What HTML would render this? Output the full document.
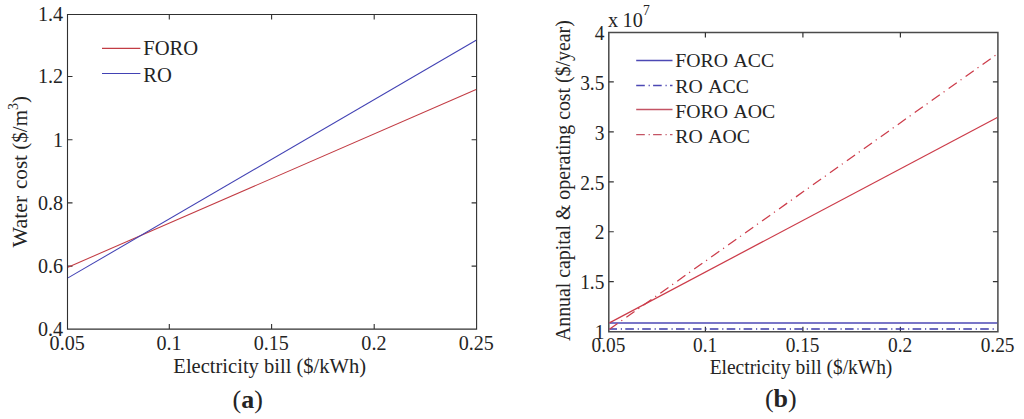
<!DOCTYPE html><html><head><meta charset="utf-8"><style>
html,body{margin:0;padding:0;background:#fff}body{width:1024px;height:419px;overflow:hidden}
svg{display:block}text{font-family:"Liberation Serif",serif;fill:#242424}
</style></head><body>
<svg width="1024" height="419" viewBox="0 0 1024 419">
<g stroke="#303030" stroke-width="1.1" fill="none">
<path d="M67.5 14.5H476.6V329.1H67.5Z"/>
<path d="M169.3 329.1v-5M169.3 14.5v5"/>
<path d="M271.6 329.1v-5M271.6 14.5v5"/>
<path d="M374.2 329.1v-5M374.2 14.5v5"/>
<path d="M67.5 76.5h5M476.6 76.5h-5"/>
<path d="M67.5 139.7h5M476.6 139.7h-5"/>
<path d="M67.5 202.9h5M476.6 202.9h-5"/>
<path d="M67.5 266.1h5M476.6 266.1h-5"/>
</g>
<path d="M68.0 267.2L476.1 89.6" stroke="#c23c44" stroke-width="1.05" fill="none"/>
<path d="M68.0 277.9L476.1 40.3" stroke="#4242b4" stroke-width="1.05" fill="none"/>
<path d="M102 48.4H140.4" stroke="#c23c44" stroke-width="1.2"/>
<path d="M102 73.5H140.4" stroke="#4242b4" stroke-width="1.2"/>
<text transform="translate(143.20 55.40) scale(1.010 1)" font-size="20.4">FORO</text>
<text transform="translate(143.20 81.60) scale(1.010 1)" font-size="20.4">RO</text>
<text transform="translate(63.10 21.40) scale(0.950 1)" font-size="21.2" text-anchor="end">1.4</text>
<text transform="translate(63.10 83.40) scale(0.950 1)" font-size="21.2" text-anchor="end">1.2</text>
<text transform="translate(63.10 146.60) scale(0.950 1)" font-size="21.2" text-anchor="end">1</text>
<text transform="translate(63.10 209.80) scale(0.950 1)" font-size="21.2" text-anchor="end">0.8</text>
<text transform="translate(63.10 273.00) scale(0.950 1)" font-size="21.2" text-anchor="end">0.6</text>
<text transform="translate(63.10 336.00) scale(0.950 1)" font-size="21.2" text-anchor="end">0.4</text>
<text transform="translate(67.20 350.10) scale(0.950 1)" font-size="21.2" text-anchor="middle">0.05</text>
<text transform="translate(169.00 350.10) scale(0.950 1)" font-size="21.2" text-anchor="middle">0.1</text>
<text transform="translate(271.30 350.10) scale(0.950 1)" font-size="21.2" text-anchor="middle">0.15</text>
<text transform="translate(373.90 350.10) scale(0.950 1)" font-size="21.2" text-anchor="middle">0.2</text>
<text transform="translate(476.30 350.10) scale(0.950 1)" font-size="21.2" text-anchor="middle">0.25</text>
<text transform="translate(269.70 373.10) scale(0.955 1)" font-size="21.5" text-anchor="middle">Electricity bill ($/kWh)</text>
<text transform="translate(26.90 247.40) rotate(-90)" font-size="21.9">Water</text>
<text transform="translate(26.90 189.00) rotate(-90) scale(0.990 1)" font-size="21.3">cost ($/m<tspan font-size="14" dy="-8.5">3</tspan><tspan dy="8.5">)</tspan></text>
<text transform="translate(247.70 407.50)" font-size="26" text-anchor="middle">(<tspan font-weight="bold">a</tspan>)</text>
<g stroke="#4a4a4a" stroke-width="1.5" fill="none">
<path d="M608.8 32.5H997.9V331.8H608.8Z"/>
</g>
<g stroke="#333" stroke-width="1.2" fill="none">
<path d="M705.4 331.8v-5M705.4 32.5v5"/>
<path d="M802.9 331.8v-5M802.9 32.5v5"/>
<path d="M900.4 331.8v-5M900.4 32.5v5"/>
<path d="M608.8 281.70h5M997.9 281.70h-5"/>
<path d="M608.8 231.75h5M997.9 231.75h-5"/>
<path d="M608.8 181.80h5M997.9 181.80h-5"/>
<path d="M608.8 131.85h5M997.9 131.85h-5"/>
<path d="M608.8 81.90h5M997.9 81.90h-5"/>
</g>
<path d="M609.4 322.9H997.3" stroke="#4c48b4" stroke-width="1.5" fill="none"/>
<path d="M609.4 329.1H997.3" stroke="#3c3aa8" stroke-width="1.5" stroke-dasharray="8.6 3.8 1.2 3.3" stroke-dashoffset="1" fill="none"/>
<path d="M609.4 322.9L997.3 117.5" stroke="#cc3c4a" stroke-width="1.25" fill="none"/>
<path d="M609.4 329.3L997.3 54.0" stroke="#cc3c4a" stroke-width="1.25" stroke-dasharray="10 4.6 1.2 5.0" fill="none"/>
<path d="M636.2 60.5H672.5" stroke="#4c48b4" stroke-width="1.3"/>
<path d="M636.2 85.5H672.5" stroke="#4c48b4" stroke-width="1.3" stroke-dasharray="8.6 3.8 1.2 3.3"/>
<path d="M636.2 109.5H672.5" stroke="#c45464" stroke-width="1.4"/>
<path d="M636.2 134.6H672.5" stroke="#c45464" stroke-width="1.4" stroke-dasharray="8.6 3.8 1.2 3.3"/>
<text transform="translate(675.20 67.00) scale(1.030 1)" font-size="19.2" word-spacing="1.6">FORO ACC</text>
<text transform="translate(675.20 92.50) scale(1.030 1)" font-size="19.2" word-spacing="1.6">RO ACC</text>
<text transform="translate(675.20 117.60) scale(1.030 1)" font-size="19.2" word-spacing="1.6">FORO AOC</text>
<text transform="translate(675.20 142.60) scale(1.030 1)" font-size="19.2" word-spacing="1.6">RO AOC</text>
<text transform="translate(604.40 39.65) scale(0.960 1)" font-size="20.2" text-anchor="end">4</text>
<text transform="translate(604.40 89.60) scale(0.960 1)" font-size="20.2" text-anchor="end">3.5</text>
<text transform="translate(604.40 139.55) scale(0.960 1)" font-size="20.2" text-anchor="end">3</text>
<text transform="translate(604.40 189.50) scale(0.960 1)" font-size="20.2" text-anchor="end">2.5</text>
<text transform="translate(604.40 239.45) scale(0.960 1)" font-size="20.2" text-anchor="end">2</text>
<text transform="translate(604.40 289.40) scale(0.960 1)" font-size="20.2" text-anchor="end">1.5</text>
<text transform="translate(604.40 339.35) scale(0.960 1)" font-size="20.2" text-anchor="end">1</text>
<text transform="translate(608.50 351.80) scale(0.960 1)" font-size="20.2" text-anchor="middle">0.05</text>
<text transform="translate(705.10 351.80) scale(0.960 1)" font-size="20.2" text-anchor="middle">0.1</text>
<text transform="translate(802.60 351.80) scale(0.960 1)" font-size="20.2" text-anchor="middle">0.15</text>
<text transform="translate(900.10 351.80) scale(0.960 1)" font-size="20.2" text-anchor="middle">0.2</text>
<text transform="translate(997.60 351.80) scale(0.960 1)" font-size="20.2" text-anchor="middle">0.25</text>
<text transform="translate(608.00 26.60)" font-size="20.2">x</text>
<text transform="translate(622.60 26.60)" font-size="20.2">10</text>
<text transform="translate(643.00 15.20)" font-size="13.6">7</text>
<text transform="translate(801.00 373.50) scale(0.960 1)" font-size="20.3" text-anchor="middle">Electricity bill ($/kWh)</text>
<text transform="translate(570.20 180.65) rotate(-90) scale(0.982 1)" font-size="20.2" text-anchor="middle">Annual capital &amp; operating cost ($/year)</text>
<text transform="translate(780.80 407.20)" font-size="26" text-anchor="middle">(<tspan font-weight="bold">b</tspan>)</text>
</svg></body></html>
